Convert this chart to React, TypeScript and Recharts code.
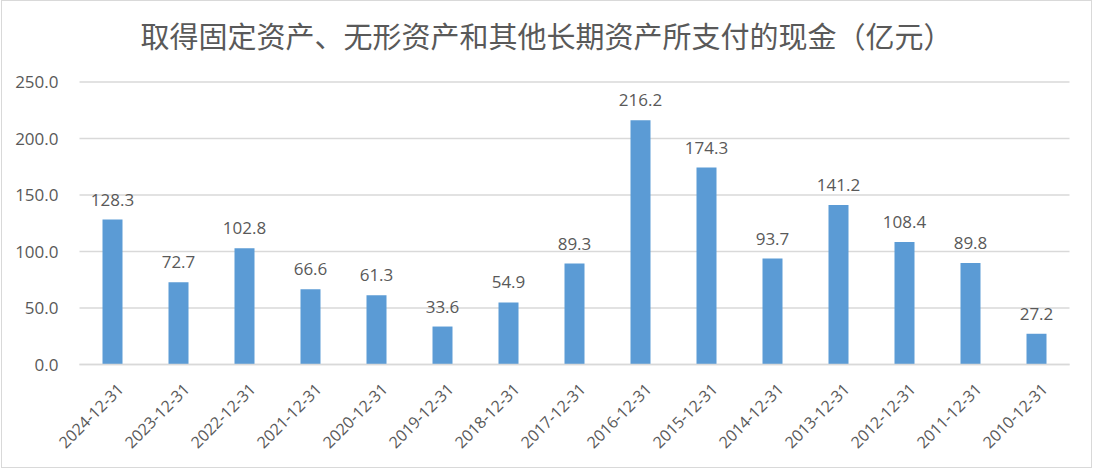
import React from "react";
import { BarChart, Bar, XAxis, YAxis, CartesianGrid, LabelList } from "recharts";

const categories = [
  "2024-12-31", "2023-12-31", "2022-12-31", "2021-12-31", "2020-12-31",
  "2019-12-31", "2018-12-31", "2017-12-31", "2016-12-31", "2015-12-31",
  "2014-12-31", "2013-12-31", "2012-12-31", "2011-12-31", "2010-12-31",
];
const values = [128.3, 72.7, 102.8, 66.6, 61.3, 33.6, 54.9, 89.3, 216.2, 174.3, 93.7, 141.2, 108.4, 89.8, 27.2];
const yTicks = [0, 50, 100, 150, 200, 250];
const title = "取得固定资产、无形资产和其他长期资产所支付的现金（亿元）";

const data = categories.map((c, i) => ({ name: c, value: values[i] }));

const TEXT = "#595959";
const FONT = "'Open Sans', 'Noto Sans CJK SC', sans-serif";

const XTick = (props: any) => {
  const { x, payload } = props;
  return (
    <g transform={`translate(${x + 8},${386})`}>
      <text
        x={0}
        y={0}
        dy={6}
        textAnchor="end"
        transform="rotate(-45)"
        fill={TEXT}
        fontSize={16}
        fontFamily={FONT}
      >
        {payload.value}
      </text>
    </g>
  );
};

export default function App() {
  return (
    <div style={{ position: "absolute", left: 0, top: 0, width: 1093, height: 469, background: "#fff" }}>
      <div
        style={{
          position: "absolute",
          left: 1,
          top: 0,
          width: 1091,
          height: 468,
          border: "1.5px solid #D9D9D9",
          boxSizing: "border-box",
        }}
      />
      <div
        style={{
          position: "absolute",
          left: 0,
          top: 14,
          width: 1093,
          textAlign: "center",
          fontFamily: "'Noto Sans CJK SC', sans-serif",
          fontSize: 29,
          lineHeight: "42px",
          color: TEXT,
        }}
      >
        {title}
      </div>
      <div style={{ position: "absolute", left: 0, top: 0 }}>
        <BarChart
          width={1093}
          height={469}
          data={data}
          margin={{ top: 82, right: 23.5, bottom: 0, left: 0 }}
          barSize={20}
        >
          <CartesianGrid vertical={false} stroke="#D9D9D9" strokeWidth={1.5} />
          <XAxis
            dataKey="name"
            height={104.5}
            axisLine={{ stroke: "#D9D9D9", strokeWidth: 1.5 }}
            tickLine={false}
            interval={0}
            tick={<XTick />}
          />
          <YAxis
            width={79.5}
            domain={[0, 250]}
            ticks={yTicks}
            axisLine={false}
            tickLine={false}
            tickMargin={15}
            tickFormatter={(v: number) => v.toFixed(1)}
            tick={{ fill: TEXT, fontSize: 17, fontFamily: FONT }}
          />
          <Bar dataKey="value" fill="#5B9BD5" isAnimationActive={false}>
            <LabelList
              dataKey="value"
              position="top"
              offset={14}
              formatter={(v: any) => Number(v).toFixed(1)}
              fill={TEXT}
              fontSize={17}
              fontFamily={FONT}
            />
          </Bar>
        </BarChart>
      </div>
    </div>
  );
}
